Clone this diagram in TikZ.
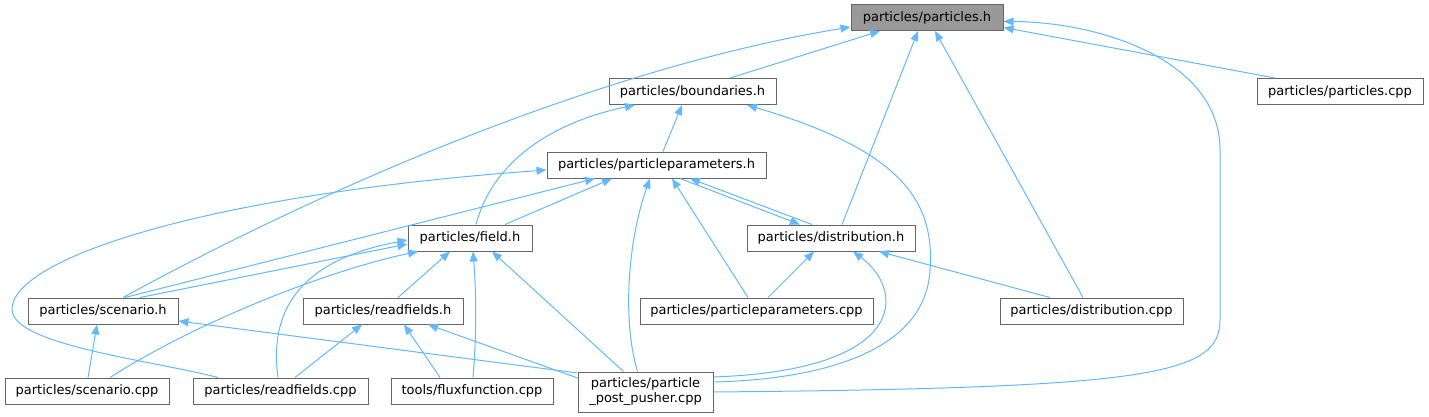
\documentclass[tikz,border=0pt]{standalone}
\usepackage{fontspec}
\setmainfont{DejaVu Sans}
\usetikzlibrary{arrows.meta}
\definecolor{edgec}{HTML}{63B8FF}
\definecolor{boxc}{HTML}{666666}
\definecolor{rootc}{HTML}{999999}
\begin{document}
\begin{tikzpicture}[x=1pt,y=-1pt,
 box/.style={draw=boxc,fill=white,line width=1pt,inner sep=0pt,minimum height=26pt,font=\fontsize{13}{15}\selectfont,align=center},
 edge/.style={draw=edgec,line width=1pt,-{Triangle[length=10pt,width=8pt]}}]
\useasboundingbox (0,0) rectangle (1429,417);
\node[box,fill=rootc,minimum width=152pt] (ph) at (927,17.5) {particles/particles.h};
\node[box,minimum width=167pt] (bd) at (692.5,91.5) {particles/boundaries.h};
\node[box,minimum width=166pt] (pc) at (1340,91.5) {particles/particles.cpp};
\node[box,minimum width=219pt] (pp) at (656.5,165) {particles/particleparameters.h};
\node[box,minimum width=124pt] (fd) at (470,238) {particles/field.h};
\node[box,minimum width=168pt] (ds) at (831,238) {particles/distribution.h};
\node[box,minimum width=150pt] (sc) at (103,311) {particles/scenario.h};
\node[box,minimum width=160pt] (rh) at (383,311) {particles/readfields.h};
\node[box,minimum width=233pt] (ppc) at (756.5,311) {particles/particleparameters.cpp};
\node[box,minimum width=183pt] (dc) at (1091.5,311) {particles/distribution.cpp};
\node[box,minimum width=164pt] (scc) at (87,391) {particles/scenario.cpp};
\node[box,minimum width=175pt] (rc) at (280.5,391) {particles/readfields.cpp};
\node[box,minimum width=162pt] (ff) at (472,391) {tools/fluxfunction.cpp};
\node[box,minimum width=135pt,minimum height=40pt] (pu) at (645.5,392) {particles/particle\\\_post\_pusher.cpp};
% to particles.h
\draw[edge] ([xshift=37.5pt]bd.north) -- ([xshift=-47pt]ph.south);
\draw[edge] ([xshift=20pt]sc.north) .. controls (323,188) and (600,68) .. ([yshift=-9.5pt]ph.west);
\draw[edge] ([xshift=11pt]ds.north) -- ([xshift=-9pt]ph.south);
\draw[edge] ([xshift=-8.5pt]dc.north) -- ([xshift=8pt]ph.south);
\draw[edge] ([xshift=-65pt]pc.north) -- ([yshift=-10pt]ph.east);
\draw[edge] (pu.east) .. controls (1150,388) and (1220,375) .. (1220,320) -- (1220,150) .. controls (1220,60) and (1100,22) .. ([yshift=-4pt]ph.east);
% to boundaries.h
\draw[edge] ([xshift=6.5pt]pp.north) -- ([xshift=-10.5pt]bd.south);
\draw[edge] ([xshift=6pt]fd.north) .. controls (490,170) and (540,125) .. ([xshift=-57.5pt]bd.south);
\draw[edge] ([yshift=10pt]pu.east) .. controls (800,380) and (925,360) .. (930,270) .. controls (935,200) and (900,150) .. ([xshift=54.5pt]bd.south);
% to particleparameters.h
\draw[edge] ([xshift=35pt]fd.north) -- ([xshift=-44.5pt]pp.south);
\draw[edge] ([xshift=22pt]sc.north) -- ([xshift=-61.5pt]pp.south);
\draw[edge] ([xshift=-62.5pt]rc.north) .. controls (150,360) and (14,345) .. (12,310) .. controls (10,260) and (200,195) .. ([yshift=-5pt]pp.west);
\draw[edge] ([xshift=-8pt]pu.north) .. controls (622,320) and (628,240) .. ([xshift=-6.5pt]pp.south);
\draw[edge] ([xshift=-8.5pt]ppc.north) -- ([xshift=15.5pt]pp.south);
\draw[edge] ([xshift=-19pt]ds.north) -- ([xshift=33.5pt]pp.south);
\draw[edge] ([xshift=23.5pt]pp.south) -- ([xshift=-31pt]ds.north);
% to field.h
\draw[edge] ([xshift=37pt]sc.north) -- ([yshift=-6pt]fd.west);
\draw[edge] ([xshift=23pt]scc.north) .. controls (200,320) and (330,270) .. ([xshift=-52pt]fd.south);
\draw[edge] ([xshift=-2.5pt]rc.north) .. controls (270,320) and (290,262) .. ([yshift=-2pt]fd.west);
\draw[edge] ([xshift=15pt]rh.north) -- ([xshift=-20pt]fd.south);
\draw[edge] ([xshift=1pt]ff.north) .. controls (477,330) and (476,290) .. ([xshift=3pt]fd.south);
\draw[edge] ([xshift=-22pt]pu.north) -- ([xshift=22pt]fd.south);
% to distribution.h
\draw[edge] ([xshift=11.5pt]ppc.north) -- ([xshift=-17pt]ds.south);
\draw[edge] ([yshift=15pt]pu.east) .. controls (910,370) and (905,290) .. ([xshift=22pt]ds.south);
\draw[edge] ([xshift=-41.5pt]dc.north) -- ([xshift=48pt]ds.south);
% to scenario.h
\draw[edge] ([xshift=1pt]scc.north) -- ([xshift=-6pt]sc.south);
\draw[edge] ([yshift=19pt]pu.west) -- ([yshift=-10pt]sc.east);
% to readfields.h
\draw[edge] ([yshift=14pt]pu.west) -- ([xshift=45pt]rh.south);
\draw[edge] ([xshift=14.5pt]rc.north) -- ([xshift=-21pt]rh.south);
\draw[edge] ([xshift=-32pt]ff.north) -- ([xshift=21pt]rh.south);
\end{tikzpicture}
\end{document}
